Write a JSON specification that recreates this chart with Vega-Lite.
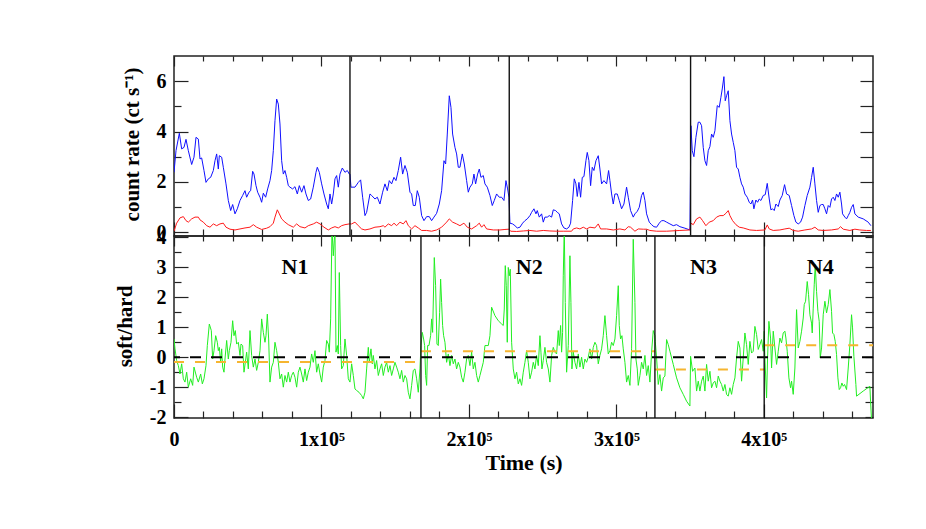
{
  "$schema": "https://vega.github.io/schema/vega-lite/v6.json",
  "background": "white",
  "padding": {"left": 113, "top": 54, "right": 5, "bottom": 5},
  "bounds": "flush",
  "spacing": 0,
  "config": {
    "font": "Liberation Serif",
    "view": {"stroke": "#222222", "strokeWidth": 1.5},
    "axis": {
      "grid": false, "domain": false, "labelFlush": false, "labelOverlap": false,
      "labelFont": "Liberation Serif", "labelFontWeight": "bold", "labelFontSize": 20, "labelColor": "black",
      "tickColor": "#222222", "tickWidth": 1.2,
      "titleFont": "Liberation Serif", "titleFontWeight": "bold", "titleFontSize": 21, "titleColor": "black"
    }
  },
  "datasets": {
    "rate": [
      {"t":0,"v":2.38,"s":"b"},{"t":1356,"v":3.24,"s":"b"},{"t":3616,"v":3.93,"s":"b"},{"t":5198,"v":3.31,"s":"b"},{"t":6780,"v":3.37,"s":"b"},{"t":8136,"v":3.69,"s":"b"},{"t":9718,"v":3.24,"s":"b"},{"t":11978,"v":2.69,"s":"b"},{"t":13560,"v":2.98,"s":"b"},{"t":14916,"v":3.77,"s":"b"},{"t":16498,"v":3.70,"s":"b"},{"t":17628,"v":2.91,"s":"b"},{"t":18758,"v":2.95,"s":"b"},{"t":20340,"v":2.45,"s":"b"},{"t":21696,"v":1.98,"s":"b"},{"t":23278,"v":2.12,"s":"b"},{"t":24860,"v":2.18,"s":"b"},{"t":26668,"v":2.45,"s":"b"},{"t":27798,"v":2.84,"s":"b"},{"t":28928,"v":3.11,"s":"b"},{"t":30058,"v":2.51,"s":"b"},{"t":30736,"v":3.04,"s":"b"},{"t":32318,"v":2.98,"s":"b"},{"t":33448,"v":2.58,"s":"b"},{"t":35256,"v":1.92,"s":"b"},{"t":36838,"v":1.26,"s":"b"},{"t":38420,"v":0.86,"s":"b"},{"t":39776,"v":1.10,"s":"b"},{"t":41358,"v":0.73,"s":"b"},{"t":42940,"v":0.93,"s":"b"},{"t":44748,"v":1.26,"s":"b"},{"t":46556,"v":1.46,"s":"b"},{"t":48138,"v":1.65,"s":"b"},{"t":49268,"v":1.39,"s":"b"},{"t":50850,"v":1.59,"s":"b"},{"t":51980,"v":1.65,"s":"b"},{"t":53336,"v":2.42,"s":"b"},{"t":54240,"v":2.31,"s":"b"},{"t":55596,"v":1.85,"s":"b"},{"t":56726,"v":1.59,"s":"b"},{"t":58308,"v":1.39,"s":"b"},{"t":59438,"v":1.19,"s":"b"},{"t":60568,"v":1.55,"s":"b"},{"t":62150,"v":1.39,"s":"b"},{"t":63506,"v":1.72,"s":"b"},{"t":65088,"v":2.05,"s":"b"},{"t":66218,"v":2.45,"s":"b"},{"t":67348,"v":3.24,"s":"b"},{"t":68478,"v":4.43,"s":"b"},{"t":69608,"v":5.29,"s":"b"},{"t":70738,"v":5.09,"s":"b"},{"t":71868,"v":4.30,"s":"b"},{"t":72998,"v":2.84,"s":"b"},{"t":74128,"v":2.31,"s":"b"},{"t":75258,"v":2.45,"s":"b"},{"t":76388,"v":2.18,"s":"b"},{"t":77518,"v":1.85,"s":"b"},{"t":78648,"v":1.79,"s":"b"},{"t":80456,"v":1.72,"s":"b"},{"t":82038,"v":1.81,"s":"b"},{"t":83620,"v":1.52,"s":"b"},{"t":84976,"v":1.85,"s":"b"},{"t":86558,"v":1.59,"s":"b"},{"t":88140,"v":1.85,"s":"b"},{"t":89496,"v":1.52,"s":"b"},{"t":91078,"v":1.26,"s":"b"},{"t":92660,"v":1.32,"s":"b"},{"t":94468,"v":1.79,"s":"b"},{"t":96276,"v":2.38,"s":"b"},{"t":97180,"v":2.58,"s":"b"},{"t":98536,"v":2.38,"s":"b"},{"t":100118,"v":1.92,"s":"b"},{"t":101700,"v":1.52,"s":"b"},{"t":103508,"v":1.12,"s":"b"},{"t":104638,"v":0.93,"s":"b"},{"t":105768,"v":1.52,"s":"b"},{"t":106898,"v":1.12,"s":"b"},{"t":108028,"v":1.52,"s":"b"},{"t":109158,"v":2.12,"s":"b"},{"t":110288,"v":2.25,"s":"b"},{"t":111418,"v":1.79,"s":"b"},{"t":112548,"v":2.31,"s":"b"},{"t":114130,"v":2.55,"s":"b"},{"t":115938,"v":2.38,"s":"b"},{"t":117520,"v":2.45,"s":"b"},{"t":118876,"v":2.31,"s":"b"},{"t":119328,"v":2.31,"s":"b"},{"t":120006,"v":1.79,"s":"b"},{"t":122718,"v":1.79,"s":"b"},{"t":124978,"v":1.98,"s":"b"},{"t":126560,"v":2.08,"s":"b"},{"t":127916,"v":1.39,"s":"b"},{"t":129498,"v":0.66,"s":"b"},{"t":130628,"v":0.79,"s":"b"},{"t":132888,"v":1.52,"s":"b"},{"t":134018,"v":1.46,"s":"b"},{"t":136278,"v":1.32,"s":"b"},{"t":137860,"v":1.39,"s":"b"},{"t":139668,"v":1.12,"s":"b"},{"t":141476,"v":1.59,"s":"b"},{"t":143058,"v":1.92,"s":"b"},{"t":144640,"v":1.65,"s":"b"},{"t":145996,"v":2.05,"s":"b"},{"t":147578,"v":1.92,"s":"b"},{"t":149160,"v":2.18,"s":"b"},{"t":150516,"v":2.05,"s":"b"},{"t":152098,"v":2.45,"s":"b"},{"t":153680,"v":2.98,"s":"b"},{"t":155036,"v":2.31,"s":"b"},{"t":156618,"v":2.65,"s":"b"},{"t":158200,"v":2.38,"s":"b"},{"t":160008,"v":1.59,"s":"b"},{"t":161138,"v":1.52,"s":"b"},{"t":162268,"v":1.06,"s":"b"},{"t":163624,"v":1.06,"s":"b"},{"t":164980,"v":1.65,"s":"b"},{"t":166336,"v":1.39,"s":"b"},{"t":167918,"v":0.66,"s":"b"},{"t":169500,"v":0.46,"s":"b"},{"t":171308,"v":0.62,"s":"b"},{"t":173116,"v":0.62,"s":"b"},{"t":174698,"v":0.46,"s":"b"},{"t":176280,"v":0.60,"s":"b"},{"t":178088,"v":0.75,"s":"b"},{"t":179896,"v":1.12,"s":"b"},{"t":181478,"v":1.65,"s":"b"},{"t":183060,"v":2.84,"s":"b"},{"t":184190,"v":2.71,"s":"b"},{"t":185320,"v":3.90,"s":"b"},{"t":186676,"v":5.42,"s":"b"},{"t":187806,"v":4.96,"s":"b"},{"t":188936,"v":3.90,"s":"b"},{"t":190518,"v":3.37,"s":"b"},{"t":191648,"v":3.11,"s":"b"},{"t":192778,"v":2.58,"s":"b"},{"t":193908,"v":2.58,"s":"b"},{"t":195490,"v":3.11,"s":"b"},{"t":196846,"v":2.71,"s":"b"},{"t":198428,"v":2.05,"s":"b"},{"t":199558,"v":1.59,"s":"b"},{"t":200688,"v":1.79,"s":"b"},{"t":202270,"v":1.92,"s":"b"},{"t":203400,"v":2.31,"s":"b"},{"t":204530,"v":1.92,"s":"b"},{"t":205886,"v":2.31,"s":"b"},{"t":207016,"v":2.51,"s":"b"},{"t":208146,"v":2.18,"s":"b"},{"t":209728,"v":2.25,"s":"b"},{"t":210858,"v":1.92,"s":"b"},{"t":212440,"v":1.79,"s":"b"},{"t":214248,"v":1.46,"s":"b"},{"t":215830,"v":1.06,"s":"b"},{"t":217186,"v":1.26,"s":"b"},{"t":218768,"v":1.52,"s":"b"},{"t":220576,"v":1.39,"s":"b"},{"t":222158,"v":1.39,"s":"b"},{"t":223740,"v":1.26,"s":"b"},{"t":225096,"v":2.05,"s":"b"},{"t":226226,"v":1.72,"s":"b"},{"t":227130,"v":1.39,"s":"b"},{"t":227808,"v":0.36,"s":"b"},{"t":229616,"v":0.33,"s":"b"},{"t":231198,"v":0.26,"s":"b"},{"t":232780,"v":0.17,"s":"b"},{"t":234588,"v":0.20,"s":"b"},{"t":236396,"v":0.36,"s":"b"},{"t":237978,"v":0.46,"s":"b"},{"t":239560,"v":0.53,"s":"b"},{"t":241368,"v":0.66,"s":"b"},{"t":242498,"v":0.79,"s":"b"},{"t":244080,"v":0.93,"s":"b"},{"t":245436,"v":0.73,"s":"b"},{"t":246340,"v":0.86,"s":"b"},{"t":247696,"v":0.60,"s":"b"},{"t":249278,"v":0.73,"s":"b"},{"t":250408,"v":0.40,"s":"b"},{"t":251538,"v":0.60,"s":"b"},{"t":253120,"v":0.60,"s":"b"},{"t":254476,"v":0.66,"s":"b"},{"t":256058,"v":0.60,"s":"b"},{"t":257188,"v":0.89,"s":"b"},{"t":258770,"v":0.86,"s":"b"},{"t":259900,"v":0.79,"s":"b"},{"t":261256,"v":0.73,"s":"b"},{"t":262838,"v":0.33,"s":"b"},{"t":264420,"v":0.17,"s":"b"},{"t":266228,"v":0.13,"s":"b"},{"t":267810,"v":0.20,"s":"b"},{"t":268940,"v":0.36,"s":"b"},{"t":270296,"v":1.26,"s":"b"},{"t":271426,"v":2.12,"s":"b"},{"t":272556,"v":1.92,"s":"b"},{"t":273460,"v":1.42,"s":"b"},{"t":274590,"v":1.98,"s":"b"},{"t":275720,"v":1.39,"s":"b"},{"t":276850,"v":2.18,"s":"b"},{"t":277980,"v":2.21,"s":"b"},{"t":279336,"v":2.84,"s":"b"},{"t":280240,"v":3.17,"s":"b"},{"t":281370,"v":2.84,"s":"b"},{"t":282500,"v":1.85,"s":"b"},{"t":283630,"v":2.58,"s":"b"},{"t":284760,"v":2.45,"s":"b"},{"t":286116,"v":2.84,"s":"b"},{"t":287698,"v":3.04,"s":"b"},{"t":288828,"v":2.51,"s":"b"},{"t":289958,"v":1.92,"s":"b"},{"t":291540,"v":2.05,"s":"b"},{"t":293348,"v":1.92,"s":"b"},{"t":294704,"v":2.45,"s":"b"},{"t":295608,"v":2.05,"s":"b"},{"t":296738,"v":1.52,"s":"b"},{"t":297868,"v":1.12,"s":"b"},{"t":298998,"v":1.52,"s":"b"},{"t":300580,"v":1.52,"s":"b"},{"t":301936,"v":1.26,"s":"b"},{"t":303518,"v":0.93,"s":"b"},{"t":305100,"v":1.12,"s":"b"},{"t":306908,"v":1.79,"s":"b"},{"t":308038,"v":1.39,"s":"b"},{"t":309620,"v":0.86,"s":"b"},{"t":311428,"v":0.60,"s":"b"},{"t":312558,"v":0.73,"s":"b"},{"t":314140,"v":0.83,"s":"b"},{"t":315496,"v":0.99,"s":"b"},{"t":317078,"v":1.46,"s":"b"},{"t":318208,"v":1.59,"s":"b"},{"t":319338,"v":1.26,"s":"b"},{"t":320468,"v":0.73,"s":"b"},{"t":322276,"v":0.40,"s":"b"},{"t":323858,"v":0.30,"s":"b"},{"t":325440,"v":0.22,"s":"b"},{"t":327248,"v":0.20,"s":"b"},{"t":329056,"v":0.36,"s":"b"},{"t":330638,"v":0.46,"s":"b"},{"t":332220,"v":0.46,"s":"b"},{"t":334028,"v":0.40,"s":"b"},{"t":336288,"v":0.33,"s":"b"},{"t":338548,"v":0.26,"s":"b"},{"t":340808,"v":0.30,"s":"b"},{"t":343068,"v":0.22,"s":"b"},{"t":346458,"v":0.16,"s":"b"},{"t":349848,"v":0.09,"s":"b"},{"t":350526,"v":4.23,"s":"b"},{"t":351430,"v":3.24,"s":"b"},{"t":352560,"v":3.00,"s":"b"},{"t":353916,"v":3.77,"s":"b"},{"t":355498,"v":4.37,"s":"b"},{"t":356628,"v":4.37,"s":"b"},{"t":357758,"v":4.23,"s":"b"},{"t":358888,"v":3.37,"s":"b"},{"t":360018,"v":2.84,"s":"b"},{"t":361148,"v":2.65,"s":"b"},{"t":362278,"v":3.24,"s":"b"},{"t":363408,"v":3.40,"s":"b"},{"t":364538,"v":3.90,"s":"b"},{"t":365668,"v":3.77,"s":"b"},{"t":366798,"v":4.03,"s":"b"},{"t":368380,"v":5.03,"s":"b"},{"t":369736,"v":4.96,"s":"b"},{"t":370866,"v":5.36,"s":"b"},{"t":371770,"v":5.69,"s":"b"},{"t":372900,"v":6.18,"s":"b"},{"t":373804,"v":5.22,"s":"b"},{"t":374708,"v":5.42,"s":"b"},{"t":375838,"v":5.62,"s":"b"},{"t":376968,"v":4.43,"s":"b"},{"t":378098,"v":3.90,"s":"b"},{"t":379228,"v":3.57,"s":"b"},{"t":380358,"v":3.24,"s":"b"},{"t":381488,"v":2.58,"s":"b"},{"t":382618,"v":2.51,"s":"b"},{"t":383748,"v":2.18,"s":"b"},{"t":384878,"v":1.92,"s":"b"},{"t":386008,"v":1.79,"s":"b"},{"t":387138,"v":1.52,"s":"b"},{"t":388720,"v":1.39,"s":"b"},{"t":390076,"v":1.19,"s":"b"},{"t":391206,"v":1.12,"s":"b"},{"t":392336,"v":1.28,"s":"b"},{"t":393240,"v":0.93,"s":"b"},{"t":394596,"v":1.28,"s":"b"},{"t":395726,"v":1.19,"s":"b"},{"t":396856,"v":1.32,"s":"b"},{"t":397986,"v":1.26,"s":"b"},{"t":399568,"v":1.46,"s":"b"},{"t":400924,"v":1.49,"s":"b"},{"t":402280,"v":1.94,"s":"b"},{"t":403636,"v":1.32,"s":"b"},{"t":404766,"v":0.89,"s":"b"},{"t":405896,"v":0.93,"s":"b"},{"t":407026,"v":0.86,"s":"b"},{"t":408156,"v":1.12,"s":"b"},{"t":409738,"v":1.02,"s":"b"},{"t":410868,"v":1.28,"s":"b"},{"t":412450,"v":1.46,"s":"b"},{"t":414032,"v":1.89,"s":"b"},{"t":415388,"v":1.52,"s":"b"},{"t":417196,"v":1.46,"s":"b"},{"t":418778,"v":1.06,"s":"b"},{"t":420360,"v":0.66,"s":"b"},{"t":421716,"v":0.40,"s":"b"},{"t":423298,"v":0.33,"s":"b"},{"t":424880,"v":0.40,"s":"b"},{"t":426236,"v":0.60,"s":"b"},{"t":427818,"v":1.06,"s":"b"},{"t":429400,"v":1.46,"s":"b"},{"t":431208,"v":1.79,"s":"b"},{"t":432338,"v":2.18,"s":"b"},{"t":433468,"v":2.58,"s":"b"},{"t":434598,"v":1.92,"s":"b"},{"t":435728,"v":1.26,"s":"b"},{"t":436858,"v":0.79,"s":"b"},{"t":437988,"v":1.06,"s":"b"},{"t":439118,"v":1.10,"s":"b"},{"t":440248,"v":1.10,"s":"b"},{"t":441378,"v":0.93,"s":"b"},{"t":442508,"v":0.73,"s":"b"},{"t":443638,"v":1.06,"s":"b"},{"t":444768,"v":0.99,"s":"b"},{"t":445898,"v":1.32,"s":"b"},{"t":447028,"v":1.39,"s":"b"},{"t":448158,"v":1.26,"s":"b"},{"t":449288,"v":1.52,"s":"b"},{"t":450418,"v":1.39,"s":"b"},{"t":451548,"v":1.59,"s":"b"},{"t":452678,"v":1.12,"s":"b"},{"t":453356,"v":0.73,"s":"b"},{"t":454938,"v":0.60,"s":"b"},{"t":456068,"v":0.53,"s":"b"},{"t":457198,"v":0.66,"s":"b"},{"t":458328,"v":0.79,"s":"b"},{"t":459458,"v":0.99,"s":"b"},{"t":460588,"v":1.10,"s":"b"},{"t":461718,"v":0.73,"s":"b"},{"t":463978,"v":0.60,"s":"b"},{"t":467368,"v":0.53,"s":"b"},{"t":470758,"v":0.40,"s":"b"},{"t":472566,"v":0.26,"s":"b"},
      {"t":0,"v":0.04,"s":"r"},{"t":1808,"v":0.36,"s":"r"},{"t":4068,"v":0.57,"s":"r"},{"t":6328,"v":0.62,"s":"r"},{"t":8136,"v":0.46,"s":"r"},{"t":9718,"v":0.40,"s":"r"},{"t":11978,"v":0.53,"s":"r"},{"t":14238,"v":0.60,"s":"r"},{"t":16498,"v":0.60,"s":"r"},{"t":17628,"v":0.49,"s":"r"},{"t":19888,"v":0.40,"s":"r"},{"t":22148,"v":0.26,"s":"r"},{"t":24408,"v":0.20,"s":"r"},{"t":26668,"v":0.33,"s":"r"},{"t":28928,"v":0.26,"s":"r"},{"t":31188,"v":0.33,"s":"r"},{"t":33448,"v":0.36,"s":"r"},{"t":35256,"v":0.20,"s":"r"},{"t":37968,"v":0.12,"s":"r"},{"t":41358,"v":0.09,"s":"r"},{"t":44748,"v":0.13,"s":"r"},{"t":48138,"v":0.17,"s":"r"},{"t":51528,"v":0.20,"s":"r"},{"t":53788,"v":0.30,"s":"r"},{"t":56048,"v":0.20,"s":"r"},{"t":59438,"v":0.11,"s":"r"},{"t":62828,"v":0.16,"s":"r"},{"t":65088,"v":0.22,"s":"r"},{"t":67348,"v":0.36,"s":"r"},{"t":68478,"v":0.60,"s":"r"},{"t":70060,"v":0.89,"s":"r"},{"t":71416,"v":0.73,"s":"r"},{"t":72998,"v":0.53,"s":"r"},{"t":75258,"v":0.40,"s":"r"},{"t":77518,"v":0.30,"s":"r"},{"t":80908,"v":0.20,"s":"r"},{"t":83168,"v":0.33,"s":"r"},{"t":85428,"v":0.22,"s":"r"},{"t":88818,"v":0.17,"s":"r"},{"t":91078,"v":0.26,"s":"r"},{"t":94468,"v":0.33,"s":"r"},{"t":96728,"v":0.40,"s":"r"},{"t":98988,"v":0.33,"s":"r"},{"t":101700,"v":0.20,"s":"r"},{"t":104638,"v":0.09,"s":"r"},{"t":106898,"v":0.17,"s":"r"},{"t":109158,"v":0.22,"s":"r"},{"t":111418,"v":0.17,"s":"r"},{"t":113678,"v":0.26,"s":"r"},{"t":115938,"v":0.30,"s":"r"},{"t":118876,"v":0.33,"s":"r"},{"t":120458,"v":0.33,"s":"r"},{"t":122718,"v":0.40,"s":"r"},{"t":124978,"v":0.26,"s":"r"},{"t":127238,"v":0.13,"s":"r"},{"t":129498,"v":0.09,"s":"r"},{"t":132888,"v":0.13,"s":"r"},{"t":136278,"v":0.20,"s":"r"},{"t":139668,"v":0.22,"s":"r"},{"t":141928,"v":0.26,"s":"r"},{"t":143058,"v":0.20,"s":"r"},{"t":145318,"v":0.33,"s":"r"},{"t":147578,"v":0.26,"s":"r"},{"t":149160,"v":0.36,"s":"r"},{"t":150968,"v":0.26,"s":"r"},{"t":153228,"v":0.40,"s":"r"},{"t":155488,"v":0.33,"s":"r"},{"t":157296,"v":0.46,"s":"r"},{"t":158878,"v":0.26,"s":"r"},{"t":161138,"v":0.13,"s":"r"},{"t":163398,"v":0.26,"s":"r"},{"t":165658,"v":0.17,"s":"r"},{"t":167918,"v":0.07,"s":"r"},{"t":171308,"v":0.07,"s":"r"},{"t":174698,"v":0.04,"s":"r"},{"t":178088,"v":0.09,"s":"r"},{"t":181478,"v":0.20,"s":"r"},{"t":184868,"v":0.40,"s":"r"},{"t":186676,"v":0.53,"s":"r"},{"t":188936,"v":0.40,"s":"r"},{"t":191648,"v":0.33,"s":"r"},{"t":193908,"v":0.26,"s":"r"},{"t":196620,"v":0.36,"s":"r"},{"t":198880,"v":0.20,"s":"r"},{"t":201818,"v":0.13,"s":"r"},{"t":205208,"v":0.26,"s":"r"},{"t":207016,"v":0.36,"s":"r"},{"t":208598,"v":0.20,"s":"r"},{"t":210180,"v":0.30,"s":"r"},{"t":211988,"v":0.13,"s":"r"},{"t":216508,"v":0.09,"s":"r"},{"t":221028,"v":0.09,"s":"r"},{"t":224418,"v":0.11,"s":"r"},{"t":227130,"v":0.12,"s":"r"},{"t":228260,"v":0.04,"s":"r"},{"t":232328,"v":0.03,"s":"r"},{"t":236848,"v":0.05,"s":"r"},{"t":241368,"v":0.07,"s":"r"},{"t":245888,"v":0.04,"s":"r"},{"t":250408,"v":0.07,"s":"r"},{"t":254928,"v":0.05,"s":"r"},{"t":259448,"v":0.04,"s":"r"},{"t":263968,"v":0.04,"s":"r"},{"t":269618,"v":0.04,"s":"r"},{"t":270748,"v":0.13,"s":"r"},{"t":273008,"v":0.17,"s":"r"},{"t":275268,"v":0.13,"s":"r"},{"t":277528,"v":0.20,"s":"r"},{"t":279788,"v":0.13,"s":"r"},{"t":282048,"v":0.20,"s":"r"},{"t":285438,"v":0.17,"s":"r"},{"t":287698,"v":0.33,"s":"r"},{"t":289280,"v":0.13,"s":"r"},{"t":293348,"v":0.13,"s":"r"},{"t":297868,"v":0.09,"s":"r"},{"t":302388,"v":0.13,"s":"r"},{"t":305778,"v":0.09,"s":"r"},{"t":308038,"v":0.22,"s":"r"},{"t":309620,"v":0.20,"s":"r"},{"t":312558,"v":0.04,"s":"r"},{"t":314818,"v":0.13,"s":"r"},{"t":318208,"v":0.12,"s":"r"},{"t":320468,"v":0.12,"s":"r"},{"t":322728,"v":0.07,"s":"r"},{"t":327248,"v":0.04,"s":"r"},{"t":334028,"v":0.04,"s":"r"},{"t":343068,"v":0.07,"s":"r"},{"t":349848,"v":0.09,"s":"r"},{"t":350526,"v":0.36,"s":"r"},{"t":352108,"v":0.30,"s":"r"},{"t":354368,"v":0.53,"s":"r"},{"t":356628,"v":0.60,"s":"r"},{"t":358436,"v":0.46,"s":"r"},{"t":360696,"v":0.26,"s":"r"},{"t":362956,"v":0.40,"s":"r"},{"t":365668,"v":0.46,"s":"r"},{"t":367928,"v":0.60,"s":"r"},{"t":370188,"v":0.66,"s":"r"},{"t":372448,"v":0.66,"s":"r"},{"t":374256,"v":0.75,"s":"r"},{"t":375838,"v":0.86,"s":"r"},{"t":376968,"v":0.66,"s":"r"},{"t":378776,"v":0.46,"s":"r"},{"t":381036,"v":0.30,"s":"r"},{"t":383296,"v":0.20,"s":"r"},{"t":386008,"v":0.17,"s":"r"},{"t":390528,"v":0.09,"s":"r"},{"t":395048,"v":0.07,"s":"r"},{"t":400698,"v":0.09,"s":"r"},{"t":402280,"v":0.29,"s":"r"},{"t":403636,"v":0.13,"s":"r"},{"t":406348,"v":0.07,"s":"r"},{"t":410868,"v":0.09,"s":"r"},{"t":414258,"v":0.13,"s":"r"},{"t":417196,"v":0.16,"s":"r"},{"t":419908,"v":0.07,"s":"r"},{"t":423298,"v":0.04,"s":"r"},{"t":427818,"v":0.09,"s":"r"},{"t":432338,"v":0.13,"s":"r"},{"t":434598,"v":0.20,"s":"r"},{"t":436858,"v":0.09,"s":"r"},{"t":440248,"v":0.07,"s":"r"},{"t":445898,"v":0.09,"s":"r"},{"t":450418,"v":0.13,"s":"r"},{"t":452000,"v":0.22,"s":"r"},{"t":453808,"v":0.12,"s":"r"},{"t":458328,"v":0.07,"s":"r"},{"t":461718,"v":0.12,"s":"r"},{"t":465108,"v":0.09,"s":"r"},{"t":469628,"v":0.07,"s":"r"},{"t":472566,"v":0.07,"s":"r"}
    ],
    "hr": [
      {"t":0,"v":0.61},{"t":678,"v":0.28},{"t":1808,"v":-0.11},{"t":2938,"v":-0.28},{"t":4068,"v":-0.56},{"t":5198,"v":-0.22},{"t":6328,"v":-0.72},{"t":7458,"v":-0.83},{"t":8588,"v":-0.50},{"t":9718,"v":-1.00},{"t":11300,"v":-0.72},{"t":12656,"v":-0.94},{"t":13560,"v":-0.33},{"t":15368,"v":-0.67},{"t":16498,"v":-0.83},{"t":18080,"v":-0.56},{"t":19210,"v":-0.89},{"t":20340,"v":-0.72},{"t":21696,"v":-0.28},{"t":22600,"v":0.39},{"t":23956,"v":1.11},{"t":25312,"v":0.89},{"t":26216,"v":-0.06},{"t":27120,"v":0.22},{"t":28250,"v":0.72},{"t":29380,"v":0.50},{"t":30058,"v":0.22},{"t":30736,"v":0.33},{"t":31640,"v":-0.17},{"t":32318,"v":0.28},{"t":32996,"v":-0.33},{"t":33900,"v":-0.50},{"t":34578,"v":-0.06},{"t":35708,"v":0.56},{"t":36838,"v":-0.06},{"t":37516,"v":0.22},{"t":38646,"v":0.50},{"t":39776,"v":1.22},{"t":40680,"v":0.72},{"t":41584,"v":0.89},{"t":42488,"v":0.44},{"t":43618,"v":0.50},{"t":44748,"v":0.06},{"t":45426,"v":0.44},{"t":46556,"v":0.39},{"t":47460,"v":-0.50},{"t":48364,"v":-0.17},{"t":49268,"v":0.17},{"t":50398,"v":-0.39},{"t":51528,"v":0.89},{"t":52658,"v":0.06},{"t":53788,"v":-0.33},{"t":54918,"v":-0.06},{"t":56048,"v":-0.44},{"t":57178,"v":-0.17},{"t":58308,"v":0.22},{"t":59438,"v":1.28},{"t":60568,"v":0.83},{"t":61698,"v":0.50},{"t":62376,"v":0.72},{"t":63280,"v":1.44},{"t":64184,"v":0.61},{"t":65088,"v":-0.83},{"t":66218,"v":-0.33},{"t":67348,"v":-0.17},{"t":68478,"v":0.50},{"t":69608,"v":0.22},{"t":70738,"v":-0.17},{"t":71868,"v":-0.72},{"t":72998,"v":-0.56},{"t":74128,"v":-1.00},{"t":75258,"v":-0.61},{"t":76388,"v":-0.83},{"t":77518,"v":-0.50},{"t":78648,"v":-0.83},{"t":79778,"v":-0.61},{"t":80908,"v":-0.50},{"t":82038,"v":-0.67},{"t":83168,"v":-1.00},{"t":84298,"v":-0.50},{"t":85428,"v":-0.33},{"t":86558,"v":-0.56},{"t":87688,"v":-0.83},{"t":88818,"v":-0.39},{"t":89948,"v":-0.78},{"t":91078,"v":-0.50},{"t":92208,"v":-0.33},{"t":93338,"v":0.11},{"t":94468,"v":-0.17},{"t":95598,"v":0.22},{"t":96728,"v":-0.50},{"t":97858,"v":-0.22},{"t":98988,"v":-0.56},{"t":100118,"v":-0.83},{"t":101248,"v":-0.33},{"t":102378,"v":-0.11},{"t":103508,"v":0.56},{"t":104638,"v":0.44},{"t":105316,"v":0.17},{"t":106220,"v":1.28},{"t":107124,"v":4.3},{"t":108028,"v":3.39},{"t":109158,"v":4.3},{"t":109836,"v":0.17},{"t":110740,"v":0.39},{"t":111418,"v":0.11},{"t":112096,"v":2.83},{"t":113000,"v":0.39},{"t":113678,"v":-0.39},{"t":114808,"v":-0.28},{"t":115938,"v":0.61},{"t":117068,"v":0.06},{"t":118198,"v":-0.72},{"t":119328,"v":-0.83},{"t":120458,"v":-0.22},{"t":121588,"v":-0.61},{"t":122718,"v":-1.06},{"t":123848,"v":-1.11},{"t":125430,"v":-1.17},{"t":127238,"v":-1.28},{"t":128368,"v":-1.39},{"t":129498,"v":-1.17},{"t":130628,"v":-0.39},{"t":131758,"v":0.33},{"t":132436,"v":-0.17},{"t":133566,"v":0.28},{"t":134470,"v":-0.22},{"t":135148,"v":0.06},{"t":136278,"v":-0.39},{"t":137408,"v":-0.11},{"t":138538,"v":-0.61},{"t":139668,"v":-0.39},{"t":140798,"v":-0.22},{"t":141928,"v":-0.61},{"t":143058,"v":-0.33},{"t":144188,"v":-0.17},{"t":145318,"v":-0.50},{"t":146448,"v":-0.28},{"t":147578,"v":-0.61},{"t":148708,"v":-0.39},{"t":149838,"v":-0.17},{"t":150968,"v":-0.33},{"t":152098,"v":-0.50},{"t":153228,"v":-0.72},{"t":154358,"v":-0.44},{"t":155488,"v":-0.83},{"t":156618,"v":-0.61},{"t":157748,"v":-0.72},{"t":158878,"v":-1.17},{"t":160008,"v":-1.39},{"t":161138,"v":-0.94},{"t":162268,"v":-0.44},{"t":163398,"v":-0.39},{"t":164528,"v":-0.72},{"t":165658,"v":-1.17},{"t":166788,"v":-0.39},{"t":167466,"v":0.39},{"t":168370,"v":0.83},{"t":169274,"v":0.61},{"t":169952,"v":0.39},{"t":170630,"v":-0.61},{"t":171308,"v":-0.94},{"t":171986,"v":0.39},{"t":172890,"v":0.39},{"t":174020,"v":0.72},{"t":174698,"v":1.28},{"t":175376,"v":0.83},{"t":176506,"v":3.33},{"t":177410,"v":2.39},{"t":178314,"v":0.44},{"t":179218,"v":0.39},{"t":180122,"v":1.50},{"t":180800,"v":2.61},{"t":181478,"v":1.83},{"t":182156,"v":1.06},{"t":182834,"v":0.72},{"t":183738,"v":0.50},{"t":184868,"v":-0.17},{"t":185998,"v":0.11},{"t":187128,"v":-0.28},{"t":188258,"v":0.06},{"t":189388,"v":-0.22},{"t":190518,"v":-0.06},{"t":191648,"v":-0.39},{"t":192778,"v":-0.17},{"t":193908,"v":-0.33},{"t":195038,"v":-0.67},{"t":196168,"v":-0.83},{"t":197298,"v":-0.50},{"t":198428,"v":-0.06},{"t":199558,"v":0.06},{"t":200688,"v":-0.28},{"t":201818,"v":0.17},{"t":202948,"v":-0.39},{"t":204078,"v":-0.17},{"t":205208,"v":-0.61},{"t":206338,"v":-0.83},{"t":207468,"v":-0.61},{"t":208598,"v":-0.39},{"t":209728,"v":-0.17},{"t":210858,"v":0.39},{"t":213118,"v":0.39},{"t":214248,"v":0.72},{"t":215378,"v":1.67},{"t":217638,"v":1.39},{"t":219898,"v":1.22},{"t":222158,"v":1.11},{"t":223288,"v":1.06},{"t":223966,"v":1.61},{"t":224644,"v":3.06},{"t":225322,"v":2.39},{"t":226000,"v":0.50},{"t":226678,"v":3.00},{"t":227356,"v":2.72},{"t":228034,"v":2.94},{"t":228938,"v":0.50},{"t":230068,"v":-0.39},{"t":231198,"v":-0.72},{"t":232328,"v":-0.50},{"t":233458,"v":-0.89},{"t":234588,"v":-0.72},{"t":235718,"v":-0.94},{"t":236848,"v":-0.50},{"t":237978,"v":-0.17},{"t":239108,"v":0.22},{"t":240238,"v":-0.17},{"t":241368,"v":-0.72},{"t":242498,"v":-0.50},{"t":243628,"v":-0.17},{"t":244758,"v":-0.39},{"t":245888,"v":0.06},{"t":247018,"v":-0.28},{"t":248148,"v":0.72},{"t":248826,"v":0.17},{"t":249504,"v":-0.39},{"t":250408,"v":-0.11},{"t":251538,"v":0.33},{"t":252668,"v":-0.17},{"t":253798,"v":-0.39},{"t":254928,"v":-0.83},{"t":256058,"v":0.06},{"t":257188,"v":0.33},{"t":258318,"v":0.17},{"t":259448,"v":0.11},{"t":260578,"v":0.89},{"t":261256,"v":0.39},{"t":262160,"v":1.06},{"t":262838,"v":0.17},{"t":263516,"v":0.83},{"t":263968,"v":2.72},{"t":264646,"v":4.3},{"t":265324,"v":1.83},{"t":266228,"v":-0.50},{"t":267358,"v":0.39},{"t":268488,"v":3.39},{"t":269166,"v":1.83},{"t":269844,"v":-0.39},{"t":270748,"v":0.17},{"t":271878,"v":-0.17},{"t":273008,"v":-0.39},{"t":274138,"v":0.11},{"t":275268,"v":-0.33},{"t":276398,"v":0.00},{"t":277528,"v":-0.39},{"t":278658,"v":-0.06},{"t":279788,"v":-0.17},{"t":280918,"v":0.00},{"t":282048,"v":0.28},{"t":283178,"v":-0.06},{"t":284308,"v":0.33},{"t":285438,"v":0.50},{"t":286568,"v":0.39},{"t":287698,"v":-0.22},{"t":288828,"v":0.06},{"t":289958,"v":0.28},{"t":291088,"v":0.72},{"t":292218,"v":1.39},{"t":293348,"v":0.72},{"t":294478,"v":0.11},{"t":295608,"v":0.22},{"t":296738,"v":0.50},{"t":297868,"v":0.39},{"t":298998,"v":0.61},{"t":300128,"v":1.39},{"t":301258,"v":2.39},{"t":301936,"v":1.06},{"t":302840,"v":0.61},{"t":303744,"v":0.72},{"t":304648,"v":0.28},{"t":305778,"v":-0.17},{"t":306908,"v":-0.83},{"t":308038,"v":-0.61},{"t":309168,"v":-0.94},{"t":310298,"v":0.28},{"t":311428,"v":3.94},{"t":312558,"v":1.83},{"t":313236,"v":-0.06},{"t":314140,"v":-0.39},{"t":314818,"v":-0.94},{"t":315948,"v":-0.61},{"t":317078,"v":-0.17},{"t":318208,"v":-0.39},{"t":319338,"v":0.06},{"t":320468,"v":-0.61},{"t":321598,"v":-0.28},{"t":322728,"v":-0.83},{"t":323858,"v":0.17},{"t":324988,"v":0.89},{"t":326118,"v":0.72},{"t":326344,"v":0.53},{"t":327248,"v":-0.02},{"t":328378,"v":-0.91},{"t":329508,"v":-0.58},{"t":330638,"v":-1.13},{"t":331768,"v":-0.69},{"t":332898,"v":-0.63},{"t":334028,"v":0.59},{"t":335158,"v":0.42},{"t":336288,"v":0.20},{"t":338548,"v":-0.24},{"t":340808,"v":-0.69},{"t":343068,"v":-1.02},{"t":345328,"v":-1.24},{"t":347588,"v":-1.47},{"t":349848,"v":-1.63},{"t":350300,"v":0.03},{"t":351656,"v":-0.47},{"t":353238,"v":-0.36},{"t":354368,"v":-1.13},{"t":355498,"v":-0.80},{"t":356628,"v":-1.13},{"t":357758,"v":-0.80},{"t":358888,"v":-0.63},{"t":360018,"v":-1.13},{"t":361148,"v":-0.24},{"t":362278,"v":-0.80},{"t":363408,"v":-0.47},{"t":364538,"v":-1.02},{"t":365668,"v":-0.86},{"t":366798,"v":-0.80},{"t":367928,"v":-1.02},{"t":369058,"v":-0.63},{"t":370188,"v":-0.80},{"t":371318,"v":-0.91},{"t":372448,"v":-1.13},{"t":373578,"v":-0.91},{"t":374708,"v":-1.24},{"t":375838,"v":-1.30},{"t":376968,"v":-1.02},{"t":378098,"v":-1.24},{"t":379228,"v":-0.91},{"t":380358,"v":-0.69},{"t":381488,"v":-0.02},{"t":382618,"v":0.53},{"t":383748,"v":0.31},{"t":384878,"v":-0.80},{"t":386008,"v":-0.02},{"t":387138,"v":0.81},{"t":388268,"v":0.42},{"t":389398,"v":-0.24},{"t":390528,"v":0.53},{"t":391658,"v":0.14},{"t":392788,"v":0.20},{"t":393918,"v":1.03},{"t":395048,"v":0.76},{"t":396178,"v":0.26},{"t":397308,"v":0.42},{"t":398438,"v":0.59},{"t":399568,"v":0.20},{"t":400246,"v":0.87},{"t":400698,"v":-0.02},{"t":401828,"v":-1.36},{"t":402506,"v":-0.02},{"t":403410,"v":1.20},{"t":404540,"v":0.64},{"t":405218,"v":-0.36},{"t":406348,"v":0.87},{"t":407478,"v":0.31},{"t":408608,"v":-0.24},{"t":409738,"v":0.20},{"t":410868,"v":0.64},{"t":411998,"v":0.48},{"t":413128,"v":0.81},{"t":414258,"v":0.87},{"t":414936,"v":0.64},{"t":415840,"v":0.20},{"t":416970,"v":-0.69},{"t":418100,"v":-1.02},{"t":418778,"v":-0.80},{"t":419908,"v":-1.24},{"t":421038,"v":-0.36},{"t":422168,"v":1.59},{"t":423298,"v":0.31},{"t":424428,"v":0.53},{"t":425558,"v":0.87},{"t":426688,"v":1.31},{"t":427366,"v":1.76},{"t":428270,"v":1.87},{"t":429400,"v":2.53},{"t":430304,"v":2.09},{"t":431208,"v":1.42},{"t":432338,"v":1.14},{"t":432790,"v":0.81},{"t":433468,"v":1.64},{"t":434146,"v":2.42},{"t":434824,"v":3.09},{"t":435728,"v":2.20},{"t":436632,"v":1.53},{"t":437536,"v":1.20},{"t":438214,"v":-0.02},{"t":439118,"v":0.31},{"t":440248,"v":1.42},{"t":441378,"v":1.87},{"t":442508,"v":1.48},{"t":443638,"v":1.76},{"t":444768,"v":2.26},{"t":445898,"v":1.53},{"t":446576,"v":0.81},{"t":447480,"v":0.76},{"t":448384,"v":0.53},{"t":449288,"v":0.09},{"t":450192,"v":-0.69},{"t":451096,"v":-1.08},{"t":452000,"v":-1.02},{"t":452904,"v":-0.86},{"t":453808,"v":-0.97},{"t":454712,"v":-0.91},{"t":456068,"v":-1.08},{"t":457198,"v":-0.36},{"t":458328,"v":0.42},{"t":459458,"v":1.42},{"t":460136,"v":0.98},{"t":461040,"v":0.03},{"t":462396,"v":-0.91},{"t":462848,"v":-1.30},{"t":467368,"v":-1.13},{"t":471888,"v":-0.97},{"t":472340,"v":-1.47},{"t":473018,"v":-2.1}
    ],
    "avg": [
      {"t0":0,"t1":167466,"v":-0.16},
      {"t0":167466,"t1":326118,"v":0.2},
      {"t0":326118,"t1":400223,"v":-0.41},
      {"t0":400223,"t1":474000,"v":0.4}
    ],
    "topb": [{"t":119328},{"t":227335},{"t":350300}],
    "botb": [{"t":167466},{"t":326118},{"t":400223}],
    "lab": [
      {"t":82038,"v":2.77,"name":"N1"},
      {"t":240900,"v":2.77,"name":"N2"},
      {"t":359100,"v":2.77,"name":"N3"},
      {"t":438200,"v":2.77,"name":"N4"}
    ],
    "zero": [{"v":0}]
  },
  "vconcat": [
    {
      "width": 699, "height": 180,
      "resolve": {"axis": {"x": "independent", "y": "independent"}},
      "layer": [
        {
          "data": {"name": "rate"},
          "mark": {"type": "line", "strokeWidth": 1, "clip": true},
          "encoding": {
            "x": {"field": "t", "type": "quantitative", "scale": {"domain": [0, 474000], "nice": false, "zero": false},
                  "axis": {"orient": "bottom", "values": [0, 100000, 200000, 300000, 400000], "labels": false, "tickSize": -14, "title": null}},
            "y": {"field": "v", "type": "quantitative", "scale": {"domain": [-0.15, 7.0], "nice": false, "zero": false},
                  "axis": {"orient": "left", "values": [0, 2, 4, 6], "tickSize": -14, "labelPadding": 22,
                           "title": "count rate (ct s⁻¹)", "titleX": -36, "titleY": 88, "titleAngle": 270, "titleAlign": "center", "titleBaseline": "alphabetic"}},
            "color": {"field": "s", "type": "nominal", "scale": {"domain": ["b", "r"], "range": ["#1010ff", "#ff1a1a"]}, "legend": null}
          }
        },
        {
          "data": {"name": "rate"},
          "mark": {"type": "point", "opacity": 0},
          "encoding": {
            "x": {"field": "t", "type": "quantitative",
                  "axis": {"orient": "bottom", "values": [20000, 40000, 60000, 80000, 120000, 140000, 160000, 180000, 220000, 240000, 260000, 280000, 320000, 340000, 360000, 380000, 420000, 440000, 460000], "labels": false, "tickSize": -7, "title": null}},
            "y": {"field": "v", "type": "quantitative",
                  "axis": {"orient": "left", "values": [1, 3, 5], "labels": false, "tickSize": -7, "title": null}}
          }
        },
        {
          "data": {"name": "rate"},
          "mark": {"type": "point", "opacity": 0},
          "encoding": {
            "x": {"field": "t", "type": "quantitative",
                  "axis": {"orient": "top", "values": [20000, 40000, 60000, 80000, 120000, 140000, 160000, 180000, 220000, 240000, 260000, 280000, 320000, 340000, 360000, 380000, 420000, 440000, 460000], "labels": false, "tickSize": -5, "title": null}},
            "y": {"field": "v", "type": "quantitative",
                  "axis": {"orient": "right", "values": [0, 1, 2, 3, 4, 5, 6], "labels": false, "tickSize": -13, "title": null}}
          }
        },
        {
          "data": {"name": "topb"},
          "mark": {"type": "rule", "color": "#111111", "strokeWidth": 1.4},
          "encoding": {
            "x": {"field": "t", "type": "quantitative",
                  "axis": {"orient": "top", "values": [0, 100000, 200000, 300000, 400000], "labels": false, "tickSize": -10, "title": null}}
          }
        }
      ]
    },
    {
      "width": 699, "height": 182,
      "resolve": {"axis": {"x": "independent", "y": "independent"}},
      "layer": [
        {
          "data": {"name": "hr"},
          "mark": {"type": "line", "strokeWidth": 1, "color": "#22ee22", "clip": true},
          "encoding": {
            "x": {"field": "t", "type": "quantitative", "scale": {"domain": [0, 474000], "nice": false, "zero": false},
                  "axis": {"orient": "bottom", "values": [0, 100000, 200000, 300000, 400000], "tickSize": -14, "labelPadding": 25,
                           "labelExpr": "datum.value == 0 ? '0' : format(datum.value / 100000, 'd') + 'x10⁵'",
                           "title": "Time (s)", "titleY": 51, "titleBaseline": "alphabetic", "titleFontSize": 22}},
            "y": {"field": "v", "type": "quantitative", "scale": {"domain": [-2.03, 4.05], "nice": false, "zero": false},
                  "axis": {"orient": "left", "values": [-2, -1, 0, 1, 2, 3, 4], "tickSize": -14, "labelPadding": 22,
                           "labelExpr": "datum.value < 0 ? '-' + abs(datum.value) : '' + datum.value",
                           "title": "soft/hard", "titleX": -43, "titleY": 90, "titleAngle": 270, "titleAlign": "center", "titleBaseline": "alphabetic"}}
          }
        },
        {
          "data": {"name": "zero"},
          "mark": {"type": "rule", "color": "black", "strokeWidth": 2, "strokeDash": [11, 10]},
          "encoding": {
            "y": {"field": "v", "type": "quantitative",
                  "axis": {"orient": "right", "values": [-2, -1.5, -1, -0.5, 0, 0.5, 1, 1.5, 2, 2.5, 3, 3.5, 4], "labels": false, "tickSize": -8, "title": null}}
          }
        },
        {
          "data": {"name": "avg"},
          "mark": {"type": "rule", "color": "#f6b530", "strokeWidth": 2, "strokeDash": [10, 11]},
          "encoding": {
            "x": {"field": "t0", "type": "quantitative",
                  "axis": {"orient": "top", "values": [0, 100000, 200000, 300000, 400000], "labels": false, "tickSize": -10, "title": null}},
            "x2": {"field": "t1"},
            "y": {"field": "v", "type": "quantitative", "axis": null}
          }
        },
        {
          "data": {"name": "botb"},
          "mark": {"type": "rule", "color": "#111111", "strokeWidth": 1.4},
          "encoding": {
            "x": {"field": "t", "type": "quantitative",
                  "axis": {"orient": "top", "values": [20000, 40000, 60000, 80000, 120000, 140000, 160000, 180000, 220000, 240000, 260000, 280000, 320000, 340000, 360000, 380000, 420000, 440000, 460000], "labels": false, "tickSize": -5, "title": null}}
          }
        },
        {
          "data": {"name": "lab"},
          "mark": {"type": "text", "font": "Liberation Serif", "fontWeight": "bold", "fontSize": 22, "align": "center", "baseline": "alphabetic", "color": "black"},
          "encoding": {
            "x": {"field": "t", "type": "quantitative",
                  "axis": {"orient": "bottom", "values": [20000, 40000, 60000, 80000, 120000, 140000, 160000, 180000, 220000, 240000, 260000, 280000, 320000, 340000, 360000, 380000, 420000, 440000, 460000], "labels": false, "tickSize": -7, "title": null}},
            "y": {"field": "v", "type": "quantitative",
                  "axis": {"orient": "left", "values": [-1.5, -0.5, 0.5, 1.5, 2.5, 3.5], "labels": false, "tickSize": -7, "title": null}},
            "text": {"field": "name"}
          }
        }
      ]
    }
  ]
}
